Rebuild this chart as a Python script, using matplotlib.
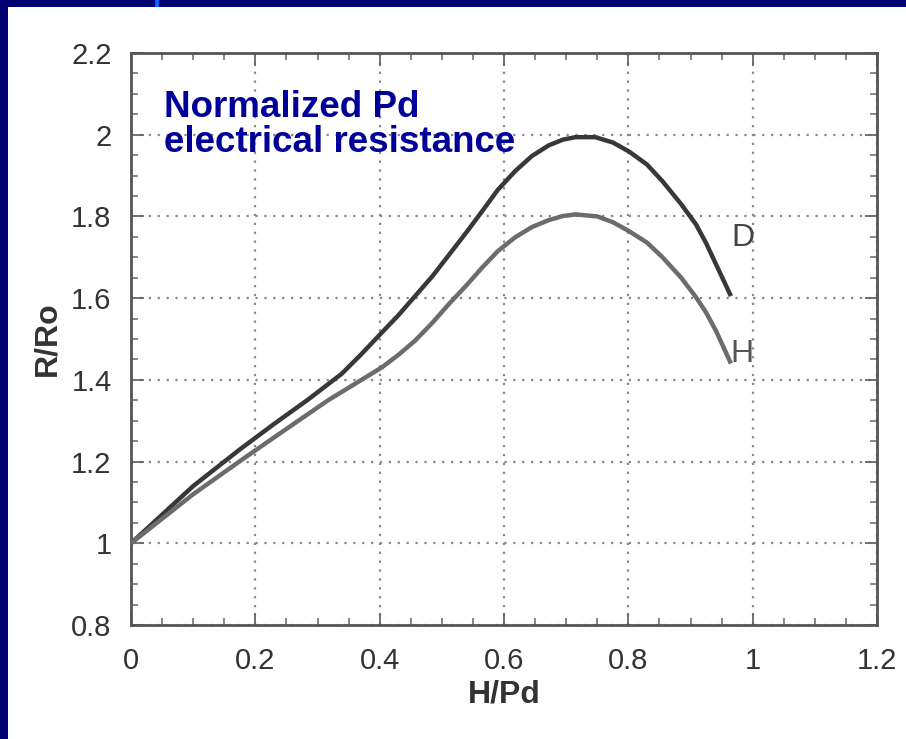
import matplotlib
matplotlib.use('Agg')
import matplotlib.pyplot as plt
from matplotlib.patches import Rectangle
from matplotlib.ticker import MultipleLocator

plt.rcParams['font.family'] = ['Liberation Sans Narrow', 'Liberation Sans', 'DejaVu Sans']

# curve values
x_d = [0, 0.05, 0.1, 0.177, 0.231, 0.285, 0.339, 0.37, 0.403, 0.43, 0.457, 0.485, 0.511, 0.54,
       0.565, 0.59, 0.618, 0.645, 0.672, 0.695, 0.715, 0.747, 0.775, 0.801, 0.83, 0.855, 0.885,
       0.909, 0.925, 0.941, 0.965]
r_d = [1.0, 1.07, 1.14, 1.232, 1.293, 1.352, 1.415, 1.462, 1.515, 1.558, 1.605, 1.654, 1.705, 1.762,
       1.813, 1.865, 1.911, 1.948, 1.974, 1.988, 1.994, 1.994, 1.981, 1.959, 1.927, 1.886, 1.83,
       1.78, 1.735, 1.683, 1.605]
x_h = [0, 0.05, 0.1, 0.177, 0.231, 0.275, 0.317, 0.36, 0.403, 0.43, 0.457, 0.485, 0.511, 0.54,
       0.565, 0.59, 0.618, 0.645, 0.672, 0.695, 0.715, 0.75, 0.775, 0.801, 0.83, 0.855, 0.885,
       0.909, 0.925, 0.941, 0.965]
r_h = [1.0, 1.06, 1.12, 1.203, 1.26, 1.306, 1.35, 1.39, 1.43, 1.461, 1.496, 1.54, 1.585, 1.632,
       1.675, 1.715, 1.749, 1.774, 1.791, 1.801, 1.805, 1.80, 1.786, 1.764, 1.736, 1.70, 1.65,
       1.602, 1.565, 1.52, 1.44]

x_ticks = [0, 0.2, 0.4, 0.6, 0.8, 1, 1.2]
x_tick_labels = ['0', '0.2', '0.4', '0.6', '0.8', '1', '1.2']
y_ticks = [0.8, 1, 1.2, 1.4, 1.6, 1.8, 2, 2.2]
y_tick_labels = ['0.8', '1', '1.2', '1.4', '1.6', '1.8', '2', '2.2']

navy = '#000070'
ink = '#333333'

fig = plt.figure(figsize=(9.06, 7.39), dpi=100)
fig.patch.set_facecolor(navy)
# white slide panel
fig.add_artist(Rectangle((8 / 906, 0), 1, 1 - 7 / 739, transform=fig.transFigure,
                         facecolor='white', edgecolor='none', zorder=-10))
fig.add_artist(Rectangle((155 / 906, 1 - 7 / 739), 4 / 906, 7 / 739, transform=fig.transFigure,
                         facecolor='#1060ff', edgecolor='none', zorder=-10))

ax = fig.add_axes([131 / 906, 1 - 625 / 739, 746 / 906, 572 / 739])
ax.set_facecolor('white')

ax.plot(x_d, r_d, color='#383838', lw=3.2, solid_capstyle='butt', solid_joinstyle='round', zorder=3)
ax.plot(x_h, r_h, color='#6c6c6c', lw=3.2, solid_capstyle='butt', solid_joinstyle='round', zorder=3)

ax.text(0.985, 1.748, 'D', fontsize=23, color='#444444', ha='center', va='center')
ax.text(0.982, 1.464, 'H', fontsize=23, color='#555555', ha='center', va='center')

ax.text(0.053, 2.025, 'Normalized Pd\nelectrical resistance', fontsize=26.5, fontweight='bold',
        color='#000099', family=['Liberation Sans', 'DejaVu Sans'], ha='left', va='center',
        linespacing=1.0, zorder=4)

ax.set_xlim(0, 1.2)
ax.set_ylim(0.8, 2.2)
ax.set_xticks(x_ticks)
ax.set_xticklabels(x_tick_labels)
ax.set_yticks(y_ticks)
ax.set_yticklabels(y_tick_labels)
ax.xaxis.set_minor_locator(MultipleLocator(0.05))
ax.yaxis.set_minor_locator(MultipleLocator(0.05))
ax.tick_params(which='both', direction='in', top=True, right=True, color='#666666')
ax.tick_params(which='major', length=9, width=1.3, labelsize=21, labelcolor=ink)
ax.tick_params(which='minor', length=5, width=1.1)
ax.tick_params(axis='x', which='major', pad=16)
ax.tick_params(axis='y', which='major', pad=14)

ax.grid(True, which='major', linestyle=(0, (1, 3)), color='#888888', linewidth=1.6)
for s in ax.spines.values():
    s.set_color('#555555')
    s.set_linewidth(2)

ax.set_xlabel('H/Pd', fontsize=23, color=ink, fontweight='bold', labelpad=3)
ax.set_ylabel('R/Ro', fontsize=23, color=ink, fontweight='bold', labelpad=6)

fig.savefig('out.png', dpi=100, facecolor=fig.get_facecolor())
